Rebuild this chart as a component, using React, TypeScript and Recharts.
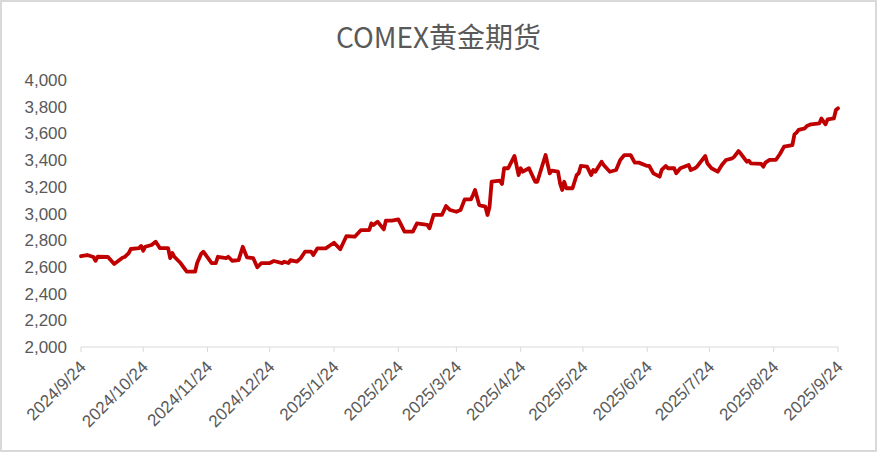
import { LineChart, Line, XAxis, YAxis } from 'recharts';

const title = 'COMEX黄金期货';

// trading dates
const dates = [
  '2024/9/24', '2024/9/27', '2024/9/30', '2024/10/1', '2024/10/2', '2024/10/7', '2024/10/10', '2024/10/14',
  '2024/10/15', '2024/10/17', '2024/10/18', '2024/10/22', '2024/10/23', '2024/10/24', '2024/10/25', '2024/10/28',
  '2024/10/30', '2024/11/1', '2024/11/5', '2024/11/6', '2024/11/7', '2024/11/8', '2024/11/11', '2024/11/14',
  '2024/11/18', '2024/11/19', '2024/11/21', '2024/11/22', '2024/11/26', '2024/11/28', '2024/11/29', '2024/12/3',
  '2024/12/4', '2024/12/6', '2024/12/9', '2024/12/11', '2024/12/13', '2024/12/16', '2024/12/18', '2024/12/20',
  '2024/12/24', '2024/12/26', '2024/12/30', '2024/12/31', '2025/1/2', '2025/1/3', '2025/1/6', '2025/1/8',
  '2025/1/10', '2025/1/13', '2025/1/14', '2025/1/16', '2025/1/20', '2025/1/22', '2025/1/24', '2025/1/27',
  '2025/1/30', '2025/2/3', '2025/2/6', '2025/2/10', '2025/2/11', '2025/2/12', '2025/2/14', '2025/2/17',
  '2025/2/18', '2025/2/21', '2025/2/24', '2025/2/25', '2025/2/27', '2025/3/3', '2025/3/5', '2025/3/10',
  '2025/3/11', '2025/3/13', '2025/3/17', '2025/3/19', '2025/3/21', '2025/3/24', '2025/3/26', '2025/3/28',
  '2025/3/31', '2025/4/1', '2025/4/2', '2025/4/4', '2025/4/7', '2025/4/8', '2025/4/9', '2025/4/10',
  '2025/4/14', '2025/4/15', '2025/4/16', '2025/4/18', '2025/4/21', '2025/4/23', '2025/4/24', '2025/4/25',
  '2025/4/28', '2025/5/1', '2025/5/2', '2025/5/6', '2025/5/8', '2025/5/9', '2025/5/12', '2025/5/13',
  '2025/5/14', '2025/5/15', '2025/5/16', '2025/5/19', '2025/5/21', '2025/5/22', '2025/5/23', '2025/5/26',
  '2025/5/28', '2025/5/29', '2025/5/30', '2025/6/2', '2025/6/3', '2025/6/6', '2025/6/9', '2025/6/11',
  '2025/6/13', '2025/6/16', '2025/6/18', '2025/6/20', '2025/6/24', '2025/6/25', '2025/6/27', '2025/6/30',
  '2025/7/1', '2025/7/3', '2025/7/4', '2025/7/7', '2025/7/8', '2025/7/10', '2025/7/14', '2025/7/15',
  '2025/7/17', '2025/7/18', '2025/7/22', '2025/7/23', '2025/7/25', '2025/7/28', '2025/7/30', '2025/8/1',
  '2025/8/4', '2025/8/5', '2025/8/7', '2025/8/8', '2025/8/11', '2025/8/12', '2025/8/13', '2025/8/18',
  '2025/8/19', '2025/8/20', '2025/8/22', '2025/8/25', '2025/8/27', '2025/8/29', '2025/9/2', '2025/9/3',
  '2025/9/4', '2025/9/5', '2025/9/8', '2025/9/9', '2025/9/11', '2025/9/15', '2025/9/16', '2025/9/17',
  '2025/9/18', '2025/9/19', '2025/9/22', '2025/9/23', '2025/9/24',
];

const prices = [
  2680, 2689, 2674, 2646, 2676, 2674, 2622, 2669,
  2674, 2704, 2734, 2741, 2757, 2721, 2751, 2764,
  2789, 2741, 2741, 2666, 2704, 2676, 2629, 2564,
  2564, 2629, 2700, 2714, 2629, 2629, 2676, 2666,
  2676, 2646, 2651, 2751, 2672, 2666, 2597, 2629,
  2629, 2644, 2629, 2639, 2629, 2651, 2639, 2666,
  2714, 2714, 2689, 2739, 2739, 2760, 2781, 2732,
  2831, 2826, 2876, 2876, 2926, 2914, 2939, 2881,
  2946, 2946, 2956, 2926, 2864, 2864, 2926, 2914,
  2889, 2989, 2989, 3056, 3026, 3013, 3026, 3106,
  3106, 3138, 3176, 3063, 3051, 2989, 3051, 3238,
  3246, 3221, 3339, 3339, 3431, 3288, 3339, 3313,
  3339, 3238, 3238, 3438, 3301, 3321, 3313, 3226,
  3176, 3238, 3189, 3189, 3288, 3301, 3356, 3351,
  3288, 3326, 3313, 3388, 3363, 3313, 3326, 3401,
  3438, 3438, 3381, 3381, 3356, 3356, 3301, 3276,
  3326, 3356, 3339, 3339, 3301, 3339, 3363, 3326,
  3339, 3351, 3431, 3376, 3339, 3313, 3363, 3401,
  3413, 3426, 3468, 3451, 3388, 3396, 3376, 3371,
  3351, 3381, 3401, 3401, 3446, 3501, 3513, 3593,
  3606, 3626, 3638, 3655, 3668, 3675, 3712, 3688,
  3668, 3705, 3712, 3775, 3788,
];

const xTickLabels = [
  '2024/9/24', '2024/10/24', '2024/11/24', '2024/12/24', '2025/1/24', '2025/2/24', '2025/3/24',
  '2025/4/24', '2025/5/24', '2025/6/24', '2025/7/24', '2025/8/24', '2025/9/24',
];
const yTicks = [2000, 2200, 2400, 2600, 2800, 3000, 3200, 3400, 3600, 3800, 4000];

const toDay = (s: string) => {
  const [y, m, d] = s.split('/').map(Number);
  return Date.UTC(y, m - 1, d) / 86400000;
};
const day0 = toDay(dates[0]);

const data = dates.map((d, i) => ({ t: toDay(d) - day0, price: prices[i] }));
const xTicks = xTickLabels.map(s => toDay(s) - day0);
const labelFor: Record<number, string> = {};
xTickLabels.forEach((s, i) => { labelFor[xTicks[i]] = s; });

const textColor = '#595959';
const fontFamily = '"Liberation Sans", Arial, sans-serif';

function DateTick(props: any) {
  const { x, y, payload } = props;
  return (
    <g transform={`translate(${x + 6},${y + 14})`}>
      <text transform="rotate(-45)" textAnchor="end" fill={textColor} fontSize={17} fontFamily={fontFamily}>
        {labelFor[payload.value]}
      </text>
    </g>
  );
}

export default function App() {
  return (
    <div style={{ position: 'fixed', left: 0, top: 0, width: 877, height: 452, background: '#fff' }}>
      <div style={{
        position: 'absolute', left: 0, top: 16, width: 877, textAlign: 'center',
        fontFamily: '"Noto Sans CJK SC", sans-serif', fontSize: 28, color: textColor, lineHeight: '40px',
      }}>
        {title}
      </div>
      <LineChart width={877} height={452} data={data} margin={{ top: 80, right: 39, bottom: 0, left: 0 }}>
        <XAxis
          dataKey="t"
          type="number"
          domain={[0, xTicks[xTicks.length - 1]]}
          ticks={xTicks}
          interval={0}
          height={105}
          axisLine={{ stroke: '#d9d9d9' }}
          tickLine={{ stroke: '#d9d9d9' }}
          tickSize={5}
          tick={<DateTick />}
        />
        <YAxis
          domain={[2000, 4000]}
          ticks={yTicks}
          width={81}
          axisLine={false}
          tickLine={false}
          tickSize={6}
          tickMargin={8}
          tickFormatter={(v: number) => v.toLocaleString('en-US')}
          tick={{ fill: textColor, fontSize: 17, fontFamily }}
        />
        <Line
          type="linear"
          dataKey="price"
          stroke="#c00000"
          strokeWidth={3.8}
          strokeLinejoin="round"
          strokeLinecap="round"
          dot={false}
          isAnimationActive={false}
        />
      </LineChart>
      <div style={{
        position: 'absolute', left: 0, top: 0, width: 877, height: 452, boxSizing: 'border-box',
        border: '2px solid #d9d9d9', pointerEvents: 'none',
      }} />
    </div>
  );
}
